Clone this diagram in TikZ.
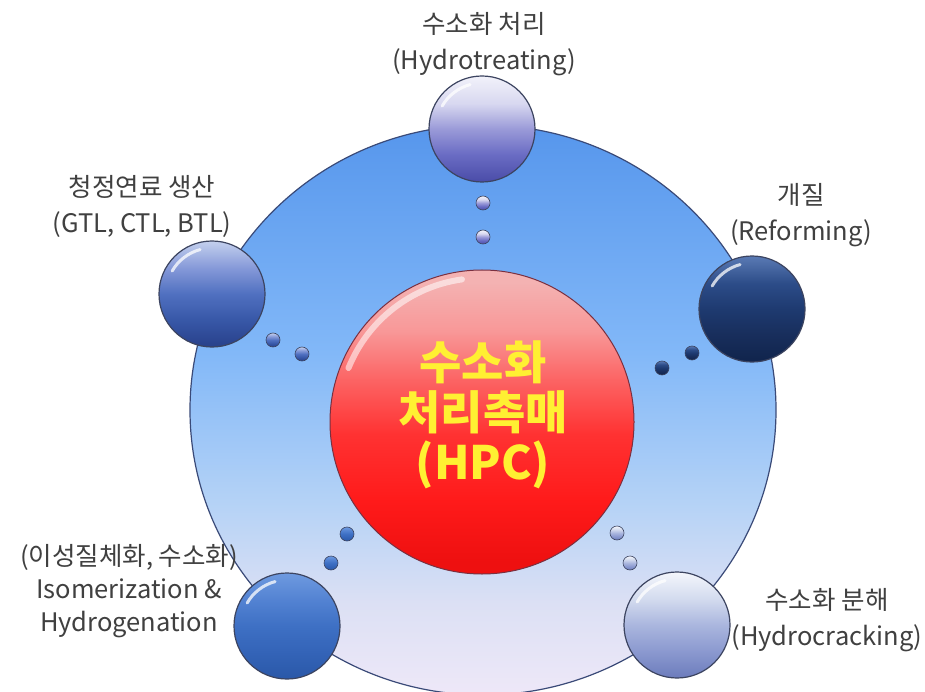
\documentclass[tikz,border=0pt]{standalone}
\usepackage{fontspec}
\setmainfont{Noto Sans CJK KR}
\usetikzlibrary{shapes.geometric}

\definecolor{discA}{HTML}{EEE8F8}
\definecolor{discB}{HTML}{DCE0F4}
\definecolor{discC}{HTML}{B4D2F6}
\definecolor{discD}{HTML}{82B8F8}
\definecolor{discE}{HTML}{5696EC}
\definecolor{discline}{HTML}{3A4A78}

\definecolor{redA}{HTML}{EE1010}
\definecolor{redB}{HTML}{FF1A1A}
\definecolor{redC}{HTML}{FF3232}
\definecolor{redD}{HTML}{FC6464}
\definecolor{redE}{HTML}{F89898}
\definecolor{redF}{HTML}{F4B2B2}
\definecolor{redline}{HTML}{7A3040}
\definecolor{hubtext}{HTML}{FFF032}

\definecolor{tA}{HTML}{4A4CA8}
\definecolor{tB}{HTML}{6A6CC4}
\definecolor{tC}{HTML}{9A9AD8}
\definecolor{tD}{HTML}{D8D8F0}
\definecolor{tE}{HTML}{F2F2FA}

\definecolor{lA}{HTML}{28408A}
\definecolor{lB}{HTML}{3858A8}
\definecolor{lC}{HTML}{5070C0}
\definecolor{lD}{HTML}{8498D8}
\definecolor{lE}{HTML}{C4D0EE}

\definecolor{rA}{HTML}{10244C}
\definecolor{rB}{HTML}{182E5C}
\definecolor{rC}{HTML}{1E3A70}
\definecolor{rD}{HTML}{2C4C88}
\definecolor{rE}{HTML}{5A7AB4}

\definecolor{bA}{HTML}{2A58A8}
\definecolor{bB}{HTML}{3464B8}
\definecolor{bC}{HTML}{3E70C4}
\definecolor{bD}{HTML}{5282D2}
\definecolor{bE}{HTML}{6E9AE0}

\definecolor{cA}{HTML}{6C7CBC}
\definecolor{cB}{HTML}{8C9AD0}
\definecolor{cC}{HTML}{AAB6DE}
\definecolor{cD}{HTML}{D2DAEE}
\definecolor{cE}{HTML}{F4F6FC}

\definecolor{ballline}{HTML}{3C4460}
\definecolor{lbltext}{HTML}{404040}

\pgfdeclareverticalshading{discshade}{100bp}{color(0bp)=(discA); color(25bp)=(discA); color(33bp)=(discB); color(42bp)=(discC); color(55bp)=(discD); color(75bp)=(discE); color(100bp)=(discE)}
\pgfdeclareverticalshading{redshade}{100bp}{color(0bp)=(redA); color(27bp)=(redA); color(37bp)=(redB); color(48bp)=(redC); color(57bp)=(redD); color(65bp)=(redE); color(73bp)=(redF); color(100bp)=(redF)}
\pgfdeclareverticalshading{shTop}{100bp}{color(0bp)=(tA); color(25bp)=(tA); color(38bp)=(tB); color(50bp)=(tC); color(62bp)=(tD); color(75bp)=(tE); color(100bp)=(tE)}
\pgfdeclareverticalshading{shLeft}{100bp}{color(0bp)=(lA); color(25bp)=(lA); color(38bp)=(lB); color(50bp)=(lC); color(62bp)=(lD); color(75bp)=(lE); color(100bp)=(lE)}
\pgfdeclareverticalshading{shRight}{100bp}{color(0bp)=(rA); color(25bp)=(rA); color(38bp)=(rB); color(50bp)=(rC); color(62bp)=(rD); color(75bp)=(rE); color(100bp)=(rE)}
\pgfdeclareverticalshading{shBL}{100bp}{color(0bp)=(bA); color(25bp)=(bA); color(38bp)=(bB); color(50bp)=(bC); color(62bp)=(bD); color(75bp)=(bE); color(100bp)=(bE)}
\pgfdeclareverticalshading{shBR}{100bp}{color(0bp)=(cA); color(25bp)=(cA); color(38bp)=(cB); color(50bp)=(cC); color(62bp)=(cD); color(75bp)=(cE); color(100bp)=(cE)}

\tikzset{
  bigball/.style={circle, minimum size=106pt, inner sep=0pt, shade, shading=#1, draw=ballline, line width=1.2pt},
  smalldot/.style={circle, minimum size=14pt, inner sep=0pt, shade, shading=#1, draw=ballline, line width=0.6pt},
  lbl/.style={text=lbltext, align=center, font=\fontsize{25.5}{36}\selectfont},
  shine/.style={white, line width=3pt, line cap=round, opacity=0.75},
  hubshine/.style={white, line width=6pt, line cap=round, opacity=0.55},
}

\begin{document}
\begin{tikzpicture}[x=1pt,y=-1pt]
\useasboundingbox (0,0) rectangle (925,692);
\fill[white] (0,0) rectangle (925,692);

% big disc
\node[ellipse, minimum width=586pt, minimum height=570pt, inner sep=0pt, shade, shading=discshade, draw=discline, line width=1.2pt] (disc) at (483,410) {};

% central hub
\node[circle, minimum size=304pt, inner sep=0pt, shade, shading=redshade, draw=redline, line width=1pt] (hub) at (482,422) {};
\draw[hubshine] (hub.center) ++(-158:144) arc[start angle=-158, end angle=-98, radius=144];
\node[text=hubtext, align=center, font=\fontsize{46}{50}\selectfont\bfseries] (hubtxt) at (483,415) {수소화\\처리촉매\\(HPC)};

% small dots
\node[smalldot=shTop] (d1a) at (483,203) {};
\node[smalldot=shTop] (d1b) at (483,237) {};
\node[smalldot=shLeft] (d2a) at (273,340) {};
\node[smalldot=shLeft] (d2b) at (302,354) {};
\node[smalldot=shRight] (d3a) at (692,353) {};
\node[smalldot=shRight] (d3b) at (662,368) {};
\node[smalldot=shBL] (d4a) at (347,534) {};
\node[smalldot=shBL] (d4b) at (331,563) {};
\node[smalldot=shBR] (d5a) at (617,533) {};
\node[smalldot=shBR] (d5b) at (630,563) {};

% spheres
\node[bigball=shTop] (s1) at (482,129) {};
\node[bigball=shLeft] (s2) at (212,294) {};
\node[bigball=shRight] (s3) at (752,309) {};
\node[bigball=shBL] (s4) at (287,626) {};
\node[bigball=shBR] (s5) at (677,625) {};

\draw[shine] (s1.center) ++(-150:46) arc[start angle=-150, end angle=-105, radius=46];
\draw[shine] (s2.center) ++(-150:46) arc[start angle=-150, end angle=-105, radius=46];
\draw[shine] (s3.center) ++(-150:46) arc[start angle=-150, end angle=-105, radius=46];
\draw[shine] (s4.center) ++(-150:46) arc[start angle=-150, end angle=-105, radius=46];
\draw[shine] (s5.center) ++(-150:46) arc[start angle=-150, end angle=-105, radius=46];

% labels
\node[lbl] (l1) at (484,44) {수소화 처리\\(Hydrotreating)};
\node[lbl] (l2) at (142,206) {청정연료 생산\\(GTL, CTL, BTL)};
\node[lbl] (l3) at (801,215) {개질\\(Reforming)};
\node[lbl, font=\fontsize{25.5}{33}\selectfont] (l4) at (129,591) {(이성질체화, 수소화)\\Isomerization \&\\Hydrogenation};
\node[lbl] (l5) at (827,620) {수소화 분해\\(Hydrocracking)};
\end{tikzpicture}
\end{document}
